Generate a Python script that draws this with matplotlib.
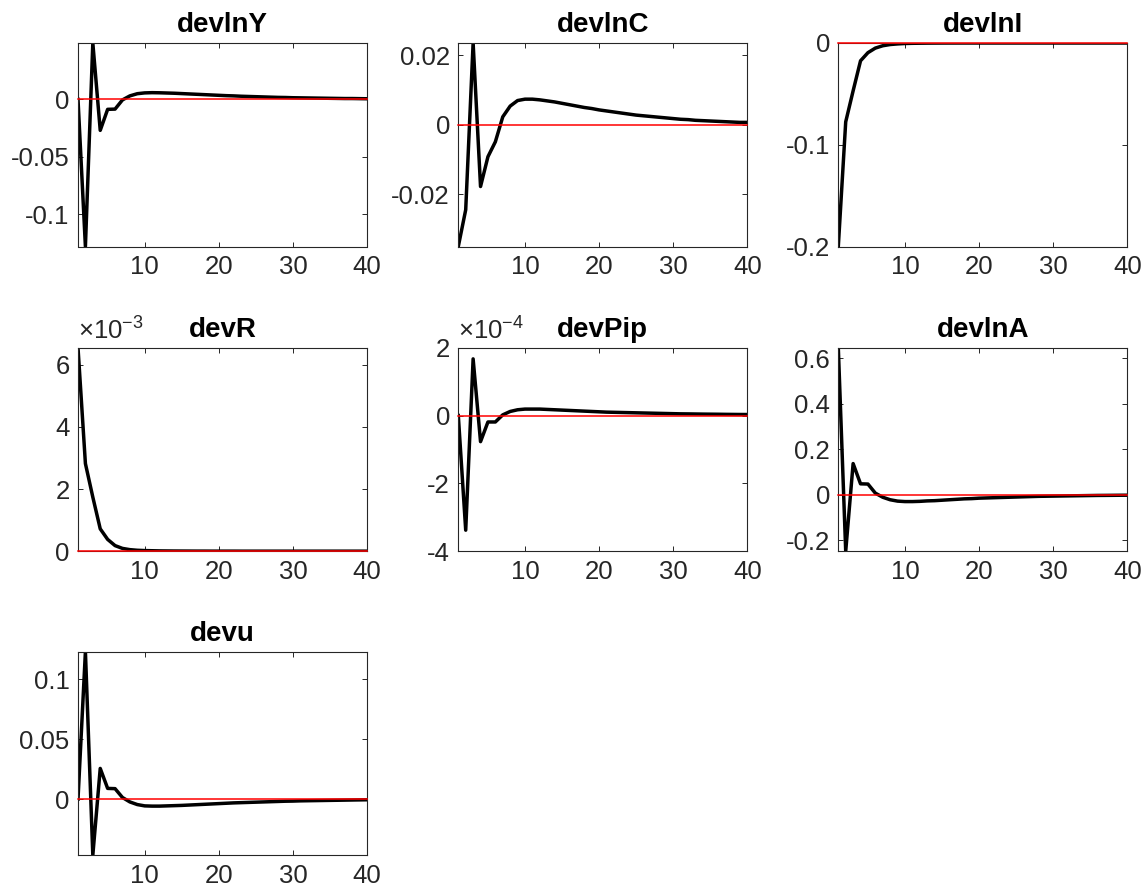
import numpy as np
import matplotlib
matplotlib.use('Agg')
import matplotlib.pyplot as plt
from matplotlib.ticker import FuncFormatter

plt.rcParams['font.family'] = ['Liberation Sans', 'DejaVu Sans']
plt.rcParams['axes.unicode_minus'] = False
plt.rcParams['mathtext.fontset'] = 'custom'
plt.rcParams['mathtext.rm'] = 'Liberation Sans'
plt.rcParams['mathtext.default'] = 'regular'

periods = list(range(1, 41))

devlnY = [0, -0.128, 0.049, -0.027, -0.0087, -0.0085, -0.0005, 0.0030, 0.0049, 0.0056,
          0.0058, 0.0057, 0.0055, 0.0053, 0.0050, 0.0047, 0.0044, 0.0041, 0.0038, 0.0035,
          0.0032, 0.0030, 0.0027, 0.0025, 0.0023, 0.0021, 0.0019, 0.0017, 0.0016, 0.0014,
          0.0013, 0.0012, 0.0011, 0.0010, 0.0009, 0.0008, 0.0007, 0.0007, 0.0006, 0.0005]

devlnC = [-0.0351, -0.0245, 0.0236, -0.0178, -0.0092, -0.0049, 0.0023, 0.0054, 0.0070, 0.0074,
          0.0074, 0.0072, 0.0069, 0.0066, 0.0062, 0.0058, 0.0054, 0.0050, 0.0047, 0.0043,
          0.0040, 0.0037, 0.0034, 0.0031, 0.0028, 0.0026, 0.0024, 0.0022, 0.0020, 0.0018,
          0.0016, 0.0015, 0.0013, 0.0012, 0.0011, 0.0010, 0.0009, 0.0008, 0.0007, 0.0007]

devlnI = [-0.2, -0.0775, -0.047, -0.0175, -0.0095, -0.0050, -0.0027, -0.0015, -0.0009, -0.0005,
          -0.0003, -0.0002, -0.00012, -0.00008, -0.00005, -0.00003, -0.00002, -0.00001, -0.00001, -0.00001,
          -0.00001, -0.00001, -0.00001, -0.00001, -0.00001, -0.00001, -0.00001, -0.00001, -0.00001, -0.00001,
          -0.00001, -0.00001, -0.00001, -0.00001, -0.00001, -0.00001, -0.00001, -0.00001, -0.00001, -0.00001]

devR = [6.55e-3, 2.82e-3, 1.74e-3, 0.72e-3, 0.38e-3, 0.18e-3, 0.09e-3, 0.05e-3, 0.03e-3, 0.02e-3,
        0.015e-3, 0.01e-3, 0.008e-3, 0.006e-3, 0.005e-3, 0.004e-3, 0.003e-3, 0.003e-3, 0.002e-3, 0.002e-3,
        0.002e-3, 0.002e-3, 0.001e-3, 0.001e-3, 0.001e-3, 0.001e-3, 0.001e-3, 0.001e-3, 0.001e-3, 0.001e-3,
        0.001e-3, 0.001e-3, 0.001e-3, 0.001e-3, 0.001e-3, 0.001e-3, 0.001e-3, 0.001e-3, 0.001e-3, 0.001e-3]

devPip = [0, -3.38e-4, 1.67e-4, -0.77e-4, -0.19e-4, -0.19e-4, 0.02e-4, 0.12e-4, 0.17e-4, 0.19e-4,
          0.19e-4, 0.19e-4, 0.18e-4, 0.17e-4, 0.16e-4, 0.15e-4, 0.14e-4, 0.13e-4, 0.12e-4, 0.11e-4,
          0.10e-4, 0.095e-4, 0.09e-4, 0.085e-4, 0.08e-4, 0.075e-4, 0.07e-4, 0.065e-4, 0.06e-4, 0.055e-4,
          0.05e-4, 0.048e-4, 0.045e-4, 0.042e-4, 0.04e-4, 0.038e-4, 0.035e-4, 0.033e-4, 0.031e-4, 0.03e-4]

devlnA = [0.646, -0.248, 0.137, 0.048, 0.047, 0.007, -0.011, -0.022, -0.028, -0.030,
          -0.030, -0.029, -0.027, -0.026, -0.024, -0.022, -0.020, -0.018, -0.017, -0.015,
          -0.014, -0.013, -0.012, -0.011, -0.010, -0.009, -0.008, -0.007, -0.0065, -0.006,
          -0.0055, -0.005, -0.0045, -0.004, -0.0035, -0.003, -0.0028, -0.0025, -0.0022, -0.002]

devu = [0, 0.1232, -0.0468, 0.0257, 0.0090, 0.0088, 0.0014, -0.0023, -0.0045, -0.0056,
        -0.0058, -0.0058, -0.0056, -0.0054, -0.0052, -0.0049, -0.0046, -0.0043, -0.0040, -0.0037,
        -0.0034, -0.0031, -0.0029, -0.0027, -0.0025, -0.0023, -0.0021, -0.0019, -0.0017, -0.0016,
        -0.0014, -0.0013, -0.0012, -0.0011, -0.0010, -0.0009, -0.0008, -0.0007, -0.0006, -0.0005]

titles = ['devlnY', 'devlnC', 'devlnI', 'devR', 'devPip', 'devlnA', 'devu']
series = [devlnY, devlnC, devlnI, devR, devPip, devlnA, devu]
ylims = [(-0.128, 0.049), (-0.0351, 0.0236), (-0.2, 0.0), (0.0, 6.55e-3),
         (-4e-4, 2e-4), (-0.248, 0.646), (-0.0468, 0.1232)]
yticks = [[-0.1, -0.05, 0], [-0.02, 0, 0.02], [-0.2, -0.1, 0], [0, 2e-3, 4e-3, 6e-3],
          [-4e-4, -2e-4, 0, 2e-4], [-0.2, 0, 0.2, 0.4, 0.6], [0, 0.05, 0.1]]
exponents = [0, 0, 0, -3, -4, 0, 0]
xticks = [10, 20, 30, 40]

W, H = 1145, 894
lefts = [78, 458.3, 838.3]
tops = [43, 347.7, 651.7]
aw, ah = 289, 203.5
gray = '#262626'

fig = plt.figure(figsize=(W / 100, H / 100), dpi=100)

for i, (name, vals) in enumerate(zip(titles, series)):
    r, c = divmod(i, 3)
    ax = fig.add_axes([lefts[c] / W, 1 - (tops[r] + ah) / H, aw / W, ah / H])
    ax.plot(periods, vals, color='black', linewidth=2.5, zorder=2)
    ax.plot([periods[0], periods[-1]], [0, 0], color='red', linewidth=1.1, zorder=3, clip_on=False)
    ax.set_xlim(periods[0], periods[-1])
    ax.set_ylim(*ylims[i])
    ax.set_xticks(xticks)
    ax.set_yticks(yticks[i])
    e = exponents[i]
    if e:
        ax.yaxis.set_major_formatter(FuncFormatter(lambda v, p, e=e: f'{v / 10 ** e:.0f}'))
        ax.text(0.0, 1.015, r'$\times10^{%d}$' % e, transform=ax.transAxes, fontsize=18.5,
                color=gray, ha='left', va='bottom')
    else:
        ax.yaxis.set_major_formatter(FuncFormatter(lambda v, p: f'{v:g}'))
    ax.tick_params(direction='in', top=True, right=True, length=3.5, width=0.7,
                   labelsize=18.5, colors=gray, pad=6)
    for s in ax.spines.values():
        s.set_color(gray)
        s.set_linewidth(0.8)
    ax.set_title(name, fontsize=20, fontweight='bold', pad=8)

fig.savefig('out.png', dpi=100)
